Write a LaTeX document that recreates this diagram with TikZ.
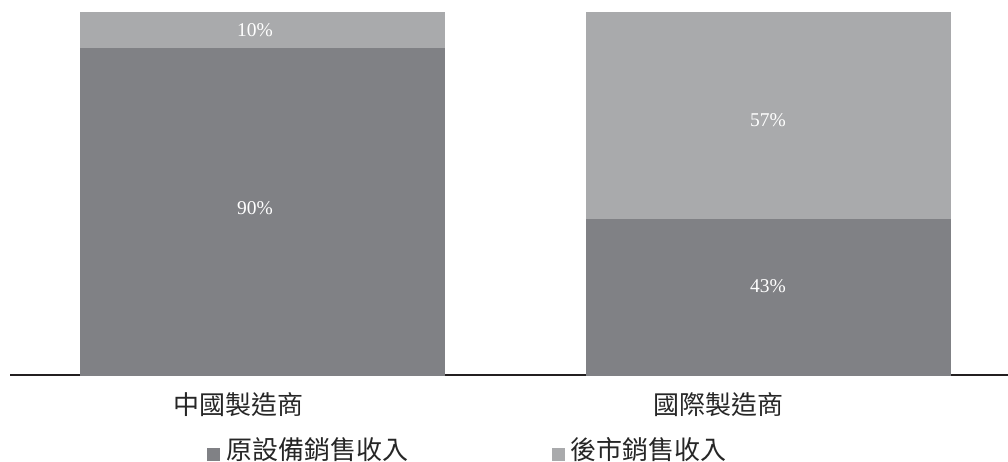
\documentclass[tikz,border=0pt]{standalone}
\usepackage{fontspec}
\setmainfont{Liberation Serif}
\newfontfamily\cjk{Noto Sans CJK TC}
\definecolor{darkbar}{RGB}{128,129,133}
\definecolor{lightbar}{RGB}{169,170,172}
\definecolor{axisline}{RGB}{35,31,32}
\begin{document}
\begin{tikzpicture}[x=1pt,y=-1pt,
  pct/.style={text=white,font=\fontsize{19.5}{19.5}\selectfont,inner sep=0pt},
  cat/.style={text=black!85,font=\cjk\fontsize{26}{26}\selectfont,inner sep=0pt},
  leg/.style={text=black!85,font=\cjk\fontsize{26}{26}\selectfont,inner sep=0pt,anchor=west},
  sq/.style={inner sep=0pt,minimum size=13pt}]
\useasboundingbox (0,0) rectangle (1008,462);
\draw[axisline,line width=1.3pt] (10,375) -- (1008,375);
% left bar
\fill[darkbar] (80,48.5) rectangle (445,375.5);
\fill[lightbar] (80,12) rectangle (445,48.5);
% right bar
\fill[darkbar] (586,219) rectangle (951,375.5);
\fill[lightbar] (586,12) rectangle (951,219);
\node[pct] (l10) at (255,30) {10\%};
\node[pct] (l90) at (255,208) {90\%};
\node[pct] (r57) at (768,120) {57\%};
\node[pct] (r43) at (768,286) {43\%};
\node[cat] (cn) at (238,405) {中國製造商};
\node[cat] (intl) at (718,405) {國際製造商};
\node[sq,fill=darkbar] (s1) at (213.5,454) {};
\node[leg] (t1) at (226,450) {原設備銷售收入};
\node[sq,fill=lightbar] (s2) at (558.5,454) {};
\node[leg] (t2) at (570,450) {後市銷售收入};
\end{tikzpicture}
\end{document}
